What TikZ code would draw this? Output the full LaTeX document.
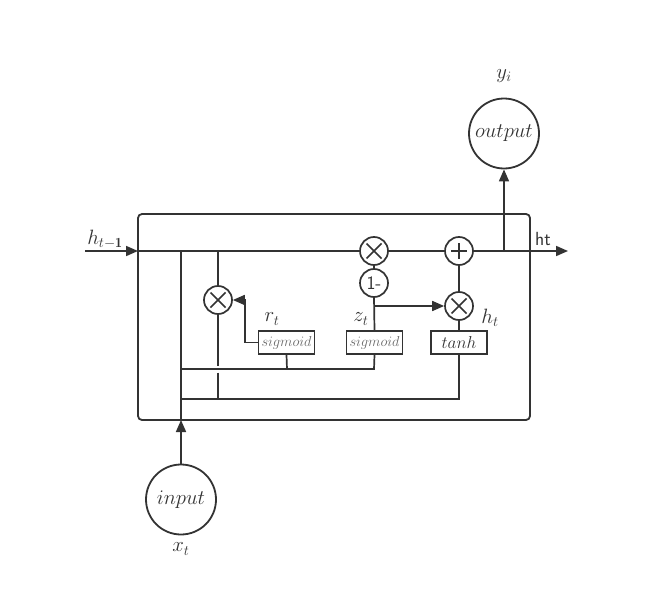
\documentclass[tikz,border=0pt]{standalone}
\usepackage{fontspec}
\usetikzlibrary{arrows.meta}
\definecolor{ln}{HTML}{333333}
\definecolor{sg}{HTML}{6A6A6A}
\tikzset{
  wire/.style={draw=ln, line width=1.7pt},
  arr/.style={wire, -{Triangle[length=12pt,width=10pt]}},
  bigc/.style={circle, draw=ln, line width=1.8pt, minimum size=70pt, inner sep=0pt, text=ln, font=\fontsize{21}{24}\selectfont},
  opc/.style={circle, draw=ln, line width=1.7pt, minimum size=28pt, inner sep=0pt},
  timesc/.style={opc, path picture={\draw[ln, line width=1.7pt] ([shift={(-7.5pt,-7.5pt)}]path picture bounding box.center) -- ([shift={(7.5pt,7.5pt)}]path picture bounding box.center) ([shift={(-7.5pt,7.5pt)}]path picture bounding box.center) -- ([shift={(7.5pt,-7.5pt)}]path picture bounding box.center);}},
  plusc/.style={opc, path picture={\draw[ln, line width=1.7pt] ([shift={(-8pt,0pt)}]path picture bounding box.center) -- ([shift={(8pt,0pt)}]path picture bounding box.center) ([shift={(0pt,8pt)}]path picture bounding box.center) -- ([shift={(0pt,-8pt)}]path picture bounding box.center);}},
  gatebox/.style={rectangle, draw=ln, line width=1.7pt, minimum width=56pt, minimum height=23pt, inner sep=0pt},
  lbl/.style={text=ln, font=\fontsize{20}{22}\selectfont, inner sep=0pt},
}
\begin{document}
\begin{tikzpicture}[x=1pt,y=-1pt]
\useasboundingbox[fill=white] (0,0) rectangle (648,594);
% outer cell
\draw[ln, line width=1.8pt, rounded corners=4pt] (138,214) rectangle (530,420);
% operator circles
\node[timesc] (mr) at (218,300) {};
\node[timesc] (mz) at (374,251) {};
\node[opc, font=\sffamily\fontsize{19}{21}\selectfont, text=ln] (om) at (374,283) {1-};
\node[plusc] (pl) at (459,251) {};
\node[timesc] (mh) at (459,306) {};
% gate boxes
\node[gatebox] (sr) at (286.5,342.5) {\textcolor{sg}{\fontsize{15.5}{17}\selectfont$sigmoid$}};
\node[gatebox] (sz) at (374.5,342.5) {\textcolor{sg}{\fontsize{15.5}{17}\selectfont$sigmoid$}};
\node[gatebox] (th) at (459,342.5) {\textcolor{ln}{\fontsize{18}{20}\selectfont$tanh$}};
% input/output
\node[bigc] (in) at (181,499.5) {$input$};
\node[bigc] (out) at (504,133.5) {$output$};
% labels
\node[lbl] (lxt) at (181,549) {$x_t$};
\node[lbl] (lyi) at (504,76) {$y_i$};
\node[lbl] (lhp) at (105,239) {$h_{t-\mathbf{1}}$};
\node[lbl, font=\sffamily\fontsize{19}{21}\selectfont] (lht) at (543,239) {ht};
\node[lbl] (lrt) at (272,319) {$r_t$};
\node[lbl] (lzt) at (361,319) {$z_t$};
\node[lbl] (lhh) at (490,318) {$h_t$};
% coordinates
\coordinate (pin) at (85,251);
\coordinate (pl0) at (138,251);
\coordinate (pend) at (568,251);
\coordinate (jx) at (181,251);
\coordinate (jxb) at (181,420);
\coordinate (jh) at (218,251);
\coordinate (jhg1) at (218,365.5);
\coordinate (jhg2) at (218,372.5);
\coordinate (jhb) at (218,399);
\coordinate (a1) at (181,369);
\coordinate (a2) at (374,369);
\coordinate (a3) at (287,369);
\coordinate (b1) at (181,399);
\coordinate (b2) at (459,399);
\coordinate (rr1) at (245,342.5);
\coordinate (rr2) at (245,300);
\coordinate (zz) at (374,306);
\coordinate (jo) at (504,251);
% main line
\draw[arr] (pin) -- (pl0);
\draw[wire] (pl0) -- (mz);
\draw[wire] (mz) -- (pl);
\draw[arr] (pl) -- (pend);
% output
\draw[arr] (jo) -- (out.south);
% input
\draw[arr] (in.north) -- (jxb);
\draw[wire] (jxb) -- (jx);
% h_{t-1} reset branch
\draw[wire] (jh) -- (mr.north);
\draw[wire] (mr.south) -- (jhg1);
\draw[wire] (jhg2) -- (jhb);
% r gate
\draw[arr] (sr.west) -- (rr1) -- (rr2) -- (mr.east);
\draw[wire] (sr.south) -- (a3);
\draw[wire] (a1) -- (a2) -- (sz.south);
% z gate
\draw[wire] (sz.north) -- (om.south);
\draw[wire] (om.north) -- (mz.south);
\draw[arr] (zz) -- (mh.west);
% candidate
\draw[wire] (b1) -- (b2) -- (th.south);
\draw[wire] (th.north) -- (mh.south);
\draw[wire] (mh.north) -- (pl.south);
\end{tikzpicture}
\end{document}
